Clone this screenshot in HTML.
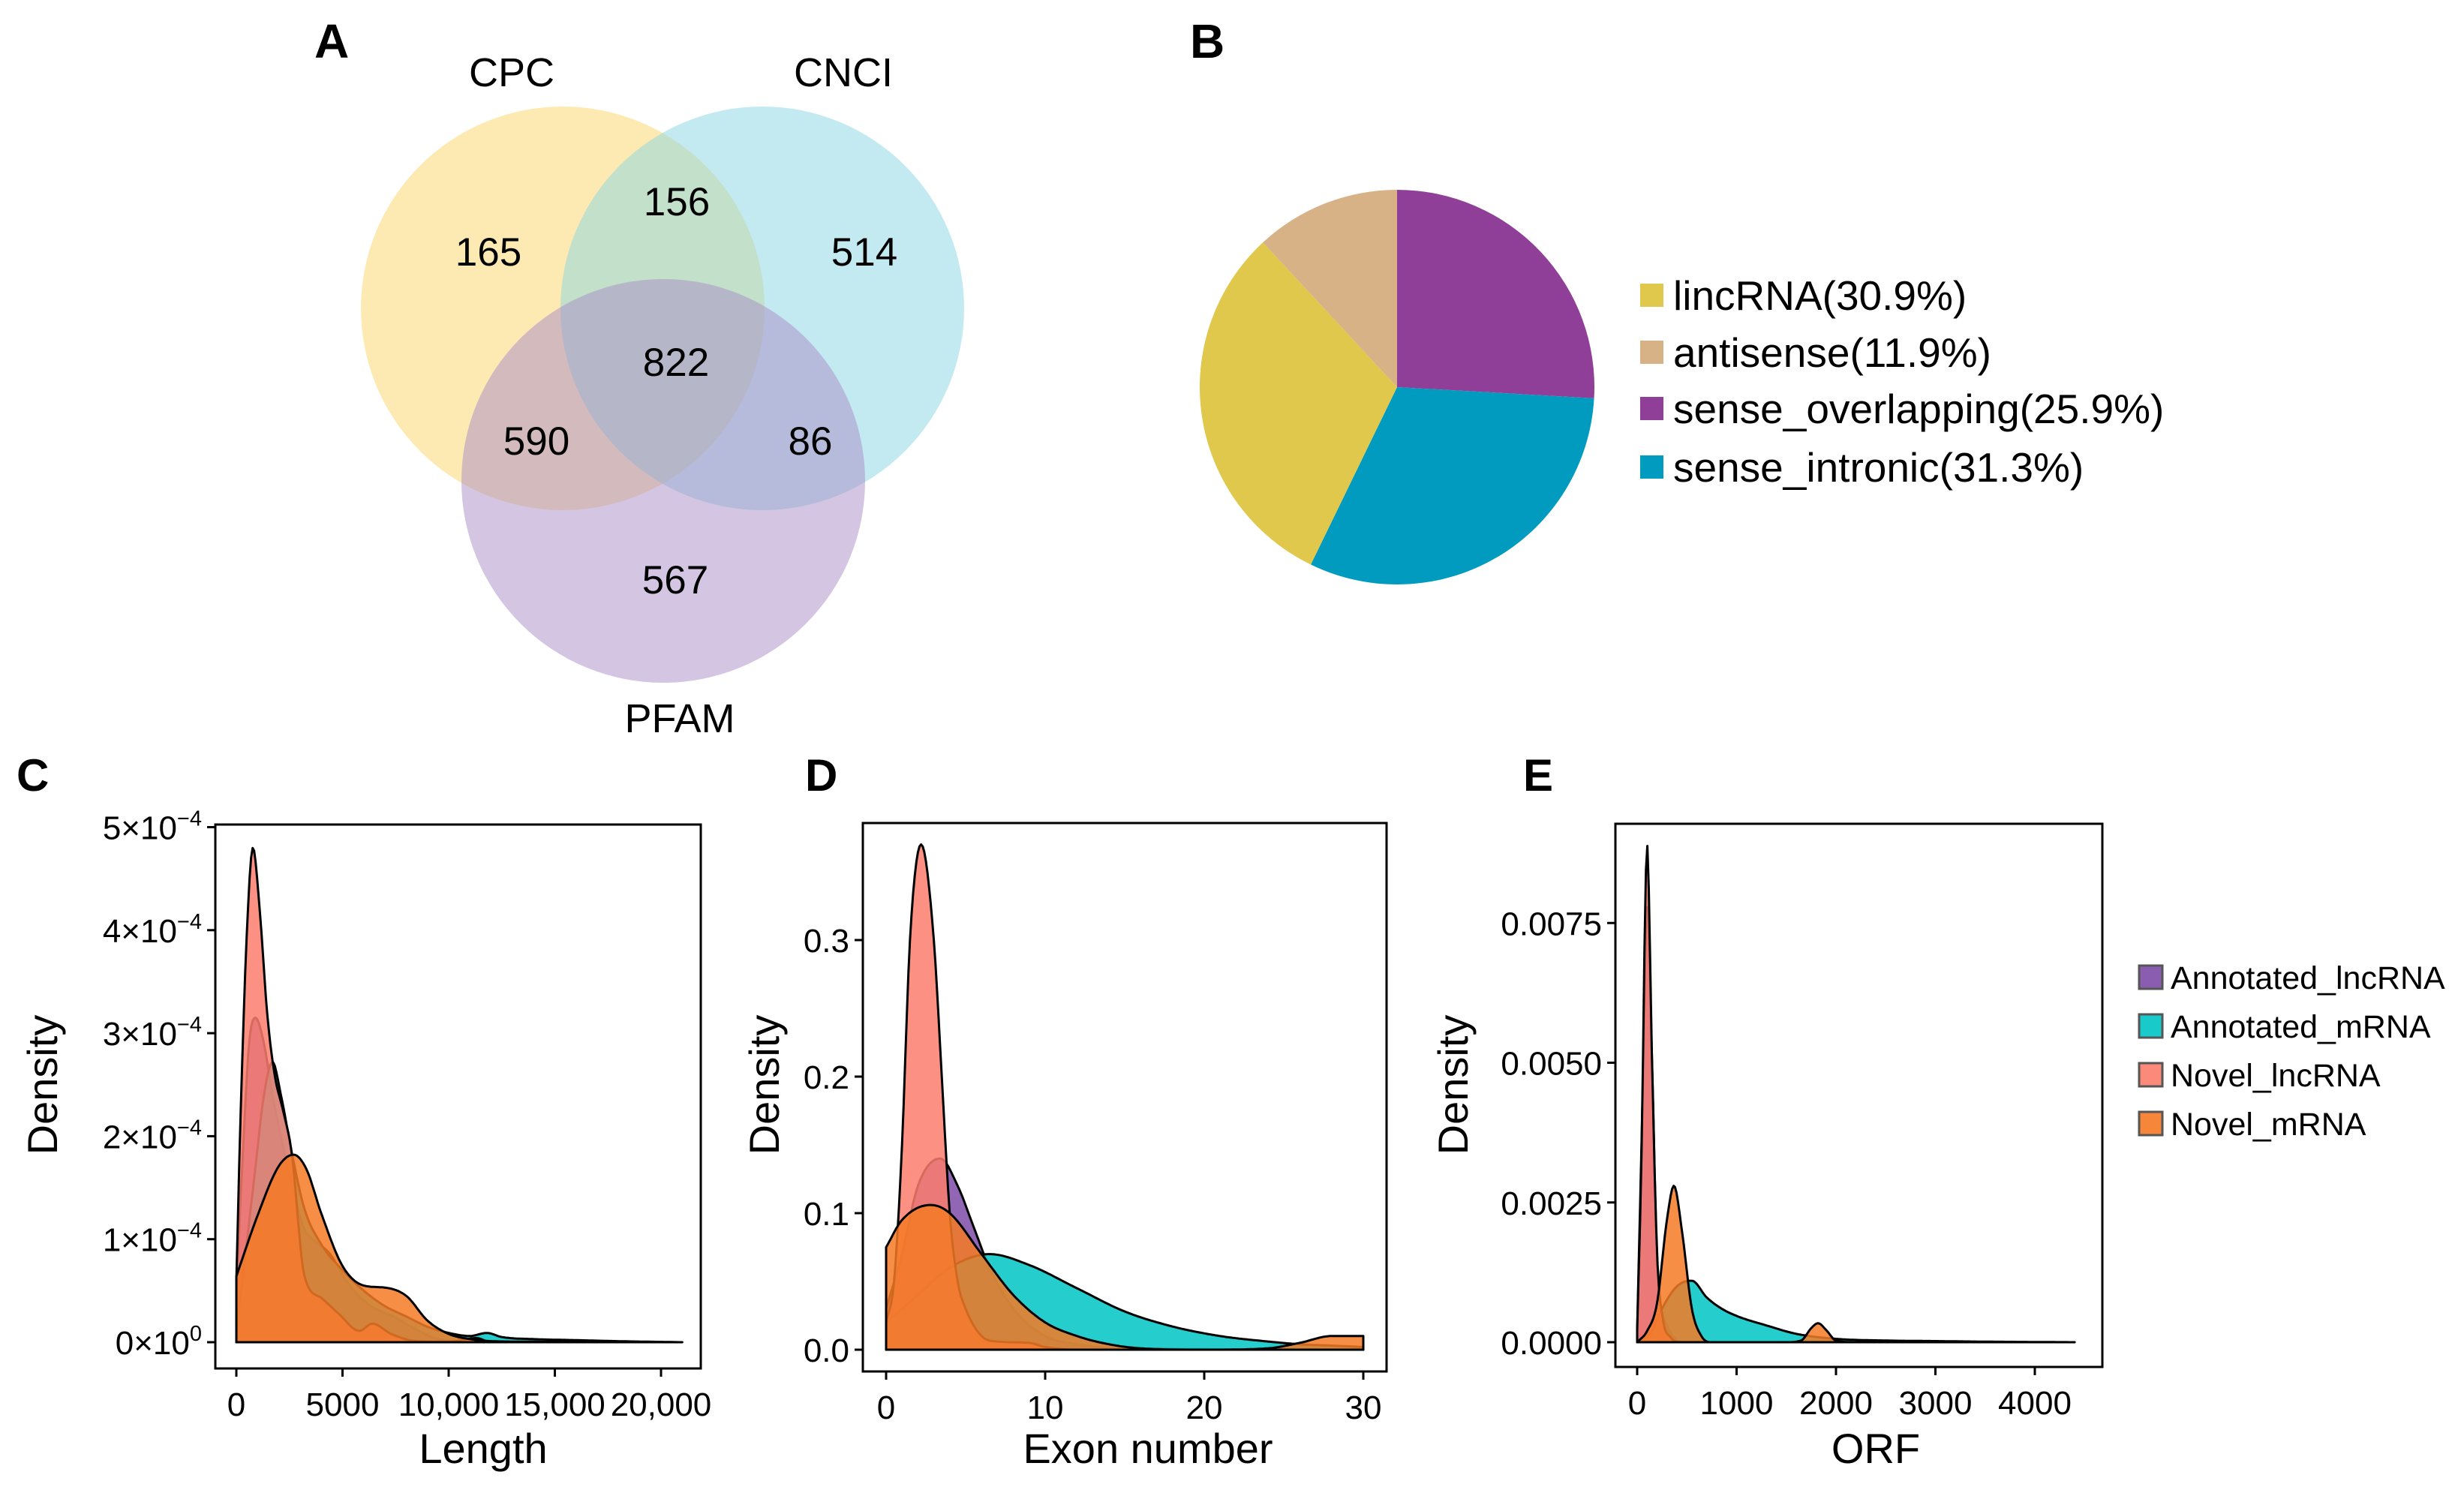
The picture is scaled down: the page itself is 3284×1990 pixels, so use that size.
<!DOCTYPE html>
<html><head><meta charset="utf-8"><style>
html,body{margin:0;padding:0;background:#fff}
svg{display:block}
text{font-family:"Liberation Sans",Arial,sans-serif;fill:#000}
</style></head><body>
<svg id="fig" width="3284" height="1990" viewBox="0 0 3284 1990" xmlns="http://www.w3.org/2000/svg">
<rect width="3284" height="1990" fill="#fff"/>
<text x="419" y="77" font-size="64" font-weight="bold">A</text>
<text x="1586" y="77" font-size="64" font-weight="bold">B</text>
<text x="22" y="1054" font-size="60" font-weight="bold">C</text>
<text x="1073" y="1054" font-size="60" font-weight="bold">D</text>
<text x="2030" y="1054" font-size="60" font-weight="bold">E</text>

<g>
<circle cx="750" cy="411" r="269" fill="#fbd567" fill-opacity="0.5"/>
<circle cx="1016" cy="411" r="269" fill="#87d6e2" fill-opacity="0.5"/>
<circle cx="884" cy="641" r="269" fill="#a98cc8" fill-opacity="0.5"/>
<g font-size="54" text-anchor="middle">
<text x="682" y="115">CPC</text>
<text x="1124" y="115">CNCI</text>
<text x="906" y="976">PFAM</text>
</g>
<g font-size="53" text-anchor="middle">
<text x="651" y="354">165</text>
<text x="902" y="287">156</text>
<text x="1152" y="354">514</text>
<text x="901" y="501">822</text>
<text x="715" y="606">590</text>
<text x="1080" y="606">86</text>
<text x="900" y="791">567</text>
</g>
</g>
<g id="pie"></g>
<g id="panelC"></g>
<g id="panelD"></g>
<g id="panelE"></g>
<g id="legendE"></g>
</svg>
<script>
const pieLabels = ["sense_overlapping","sense_intronic","lincRNA","antisense"];
const pieValues = [25.9, 31.3, 30.9, 11.9];
const pieColors = ["#8f3f98","#019bc0","#e0c84d","#d8b287"];
const legendOrder = ["lincRNA","antisense","sense_overlapping","sense_intronic"];

const cAnnLncX = [0,300,600,900,1300,1700,2200,2700,3200,3600,4400,5200,6200,7400,8500,9500,11000,13000,21000];
const cAnnLncY = [0.5,1.8,2.9,3.15,2.9,2.4,1.9,1.45,1.1,1.0,0.86,0.59,0.37,0.25,0.12,0.03,0.01,0,0];
const cAnnMrnaX = [0,400,900,1300,1700,2100,2600,3200,4000,5000,6000,7000,8000,9000,10000,11000,11800,12500,14000,16000,18000,20900];
const cAnnMrnaY = [0.1,0.8,1.7,2.4,2.72,2.4,1.85,1.3,0.95,0.7,0.5,0.35,0.25,0.15,0.09,0.06,0.09,0.05,0.03,0.02,0.01,0];
const cNovLncX = [0,200,500,780,1100,1450,1800,2200,2600,3200,4000,4800,5800,6400,7300,8500,10000,11300,12000,20900];
const cNovLncY = [0.6,2.2,4.0,4.8,4.2,3.2,2.6,2.25,1.85,0.65,0.43,0.28,0.11,0.18,0.08,0.01,0.005,0.04,0,0];
const cNovMrnaX = [0,1000,2000,2700,3300,4000,5000,6000,7000,8000,9000,10000,11000,12000,14000,17000,20900];
const cNovMrnaY = [0.64,1.23,1.71,1.82,1.68,1.25,0.74,0.55,0.53,0.45,0.21,0.08,0.03,0.01,0.005,0.003,0];
const cXTicks = [0,5000,10000,15000,20000];
const cXTickLabels = ["0","5000","10,000","15,000","20,000"];
const cYTicks = [0,1,2,3,4,5];
const cYTickMant = ["0","1","2","3","4","5"];
const cYTickExp = ["0","−4","−4","−4","−4","−4"];

const dAnnLncX = [0,1,2,3.4,4.5,5.5,6.5,8,10,12,15,30];
const dAnnLncY = [0.03,0.07,0.12,0.14,0.12,0.09,0.06,0.03,0.01,0.004,0.001,0];
const dAnnMrnaX = [0,2,4,6.5,9,12,15,18,21,24,26,28,30];
const dAnnMrnaY = [0.02,0.04,0.06,0.07,0.062,0.045,0.028,0.017,0.01,0.006,0.004,0.003,0.002];
const dNovLncX = [0,0.5,1,1.5,2.2,3,3.5,4,4.5,5,6,7,9,10,12,30];
const dNovLncY = [0.02,0.05,0.15,0.3,0.37,0.3,0.2,0.1,0.05,0.03,0.01,0.006,0.005,0.002,0,0];
const dNovMrnaX = [0,1,2.8,4,6,8,10,12,14,16,20,24,26,28,29,30];
const dNovMrnaY = [0.075,0.095,0.106,0.1,0.07,0.04,0.02,0.01,0.004,0.001,0,0.001,0.005,0.01,0.01,0.01];
const dXTicks = [0,10,20,30];
const dXTickLabels = ["0","10","20","30"];
const dYTicks = [0,0.1,0.2,0.3];
const dYTickLabels = ["0.0","0.1","0.2","0.3"];

const eAnnLncX = [0,50,100,150,200,300,500,4400];
const eAnnLncY = [0.0002,0.004,0.0078,0.005,0.0015,0.0003,0,0];
const eAnnMrnaX = [0,150,250,400,550,700,850,1000,1300,1600,2000,2500,3000,3500,4400];
const eAnnMrnaY = [0,0.0002,0.0006,0.001,0.0011,0.0008,0.0006,0.00047,0.0003,0.00015,0.00006,0.00003,0.00002,0.00001,0];
const eNovLncX = [0,40,100,150,200,260,330,450,4400];
const eNovLncY = [0.0002,0.003,0.0089,0.005,0.0016,0.0004,0.0001,0,0];
const eNovMrnaX = [0,100,200,300,370,450,550,650,750,1500,1650,1750,1820,1900,2000,2200,4400];
const eNovMrnaY = [0,0.0002,0.0007,0.0022,0.0028,0.002,0.0006,0.0001,0,0,0.00003,0.00025,0.00034,0.00022,0.00003,0,0];
const eXTicks = [0,1000,2000,3000,4000];
const eXTickLabels = ["0","1000","2000","3000","4000"];
const eYTicks = [0,0.0025,0.005,0.0075];
const eYTickLabels = ["0.0000","0.0025","0.0050","0.0075"];

const seriesNames = ["Annotated_lncRNA","Annotated_mRNA","Novel_lncRNA","Novel_mRNA"];
const seriesColors = ["#7d4ba8","#00c4c4","#fb7d6d","#f57a25"];

const NS = "http://www.w3.org/2000/svg";
function mk(tag, attrs, parent){const e=document.createElementNS(NS,tag);for(const k in attrs)e.setAttribute(k,attrs[k]);parent.appendChild(e);return e;}

function monotone(xs, ys){
  const n=xs.length, d=[], m=new Array(n);
  for(let i=0;i<n-1;i++) d.push((ys[i+1]-ys[i])/(xs[i+1]-xs[i]));
  m[0]=d[0]; m[n-1]=d[n-2];
  for(let i=1;i<n-1;i++){ m[i]=(d[i-1]*d[i]<=0)?0:(d[i-1]+d[i])/2; }
  for(let i=0;i<n-1;i++){
    if(d[i]===0){m[i]=0;m[i+1]=0;continue;}
    const a=m[i]/d[i], b=m[i+1]/d[i], s=a*a+b*b;
    if(s>9){const t=3/Math.sqrt(s);m[i]=t*a*d[i];m[i+1]=t*b*d[i];}
  }
  return function(x){
    let i=0; while(i<n-2 && x>xs[i+1]) i++;
    const h=xs[i+1]-xs[i], t=(x-xs[i])/h;
    const h00=2*t*t*t-3*t*t+1,h10=t*t*t-2*t*t+t,h01=-2*t*t*t+3*t*t,h11=t*t*t-t*t;
    return Math.max(0,h00*ys[i]+h10*h*m[i]+h01*ys[i+1]+h11*h*m[i+1]);
  };
}

function drawPanel(g, cfg){
  const fr = mk('rect',{x:cfg.fx0,y:cfg.fy0,width:cfg.fx1-cfg.fx0,height:cfg.fy1-cfg.fy0,fill:'none',stroke:'#000','stroke-width':3},g);
  
  
  cfg.series.forEach((s,si)=>{
    const f=monotone(s.x,s.y);
    const x0=s.x[0], x1=s.x[s.x.length-1];
    let d=`M${cfg.sx(x0).toFixed(1)},${cfg.sy(0).toFixed(1)}`;
    const N=300;
    for(let k=0;k<=N;k++){const xv=x0+(x1-x0)*k/N; d+=`L${cfg.sx(xv).toFixed(1)},${cfg.sy(f(xv)).toFixed(1)}`;}
    d+=`L${cfg.sx(x1).toFixed(1)},${cfg.sy(0).toFixed(1)}Z`;
    const p=mk('path',{d:d,fill:seriesColors[si],'fill-opacity':0.85,stroke:'#000','stroke-width':3,'stroke-linejoin':'round'},g);
    
    
  });
  cfg.xt.forEach((v,i)=>{
    const x=cfg.sx(v);
    mk('line',{x1:x,x2:x,y1:cfg.fy1,y2:cfg.fy1+11,stroke:'#000','stroke-width':3},g);
    const t=mk('text',{x:x,y:cfg.fy1+63,'font-size':44,'text-anchor':'middle'},g);
    t.textContent=cfg.xl[i];
    
    
  });
  cfg.yt.forEach((v,i)=>{
    const y=cfg.sy(v);
    mk('line',{x1:cfg.fx0-11,x2:cfg.fx0,y1:y,y2:y,stroke:'#000','stroke-width':3},g);
    const t=mk('text',{x:cfg.fx0-18,y:y+16,'font-size':44,'text-anchor':'end'},g);
    if(cfg.yExp){
      t.textContent=cfg.yl[i]+'×10';
      const ts=mk('tspan',{dy:-18,'font-size':29},t); ts.textContent=cfg.yExp[i];
    } else t.textContent=cfg.yl[i];
    
    
  });
  const xt=mk('text',{x:cfg.xtx,y:1950,'font-size':56,'text-anchor':'middle'},g);
  xt.textContent=cfg.xtitle;
  
  
  const yt=mk('text',{x:0,y:0,'font-size':56,'text-anchor':'middle',transform:`translate(${cfg.ytx},1446) rotate(-90)`},g);
  yt.textContent='Density';
  
  
}

drawPanel(document.getElementById('panelC'),{
  fx0:287,fx1:934,fy0:1099,fy1:1824,
  sx:v=>315+v*566/20000, sy:v=>1789-v*137.3,
  series:[{x:cAnnLncX,y:cAnnLncY},{x:cAnnMrnaX,y:cAnnMrnaY},{x:cNovLncX,y:cNovLncY},{x:cNovMrnaX,y:cNovMrnaY}],
  xt:cXTicks,xl:cXTickLabels,yt:cYTicks,yl:cYTickMant,yExp:cYTickExp,
  xtitle:'Length',xtx:644,ytx:76
});
drawPanel(document.getElementById('panelD'),{
  fx0:1150,fx1:1848,fy0:1097,fy1:1828,
  sx:v=>1181+v*21.2, sy:v=>1799-v*1820,
  series:[{x:dAnnLncX,y:dAnnLncY},{x:dAnnMrnaX,y:dAnnMrnaY},{x:dNovLncX,y:dNovLncY},{x:dNovMrnaX,y:dNovMrnaY}],
  xt:dXTicks,xl:dXTickLabels,yt:dYTicks,yl:dYTickLabels,
  xtitle:'Exon number',xtx:1530,ytx:1038
});
drawPanel(document.getElementById('panelE'),{
  fx0:2153,fx1:2802,fy0:1098,fy1:1822,
  sx:v=>2182+v*0.1325, sy:v=>1789-v*74500,
  series:[{x:eAnnLncX,y:eAnnLncY},{x:eAnnMrnaX,y:eAnnMrnaY},{x:eNovLncX,y:eNovLncY},{x:eNovMrnaX,y:eNovMrnaY}],
  xt:eXTicks,xl:eXTickLabels,yt:eYTicks,yl:eYTickLabels,
  xtitle:'ORF',xtx:2500,ytx:1956
});

const lg=document.getElementById('legendE');
seriesNames.forEach((nm,i)=>{
  const y=1303+i*65;
  const r=mk('rect',{x:2851,y:y-16,width:31,height:31,fill:seriesColors[i],'fill-opacity':0.9,stroke:'#555','stroke-width':3},lg);
  
  
  const t=mk('text',{x:2893,y:y+15,'font-size':43},lg);
  t.textContent=nm;
  
  
});

const pg=document.getElementById('pie');
const cx=1862, cy=516, R=263;
let total=pieValues.reduce((a,b)=>a+b,0), acc=0;
pieValues.forEach((v,i)=>{
  const a0=acc/total*2*Math.PI, a1=(acc+v)/total*2*Math.PI; acc+=v;
  const x0=cx+R*Math.sin(a0), y0=cy-R*Math.cos(a0), x1=cx+R*Math.sin(a1), y1=cy-R*Math.cos(a1);
  const large=(a1-a0)>Math.PI?1:0;
  const p=mk('path',{d:`M${cx},${cy}L${x0},${y0}A${R},${R} 0 ${large} 1 ${x1},${y1}Z`,fill:pieColors[i]},pg);
  
  
});
legendOrder.forEach((nm,i)=>{
  const idx=pieLabels.indexOf(nm);
  const y=[394,470,545,623][i];
  const r=mk('rect',{x:2186,y:y-16,width:31,height:31,fill:pieColors[idx]},pg);
  
  
  const t=mk('text',{x:2230,y:y+19,'font-size':55},pg);
  t.textContent=nm+'('+pieValues[idx].toFixed(1)+'%)';
  
  
});
</script>
</body></html>
